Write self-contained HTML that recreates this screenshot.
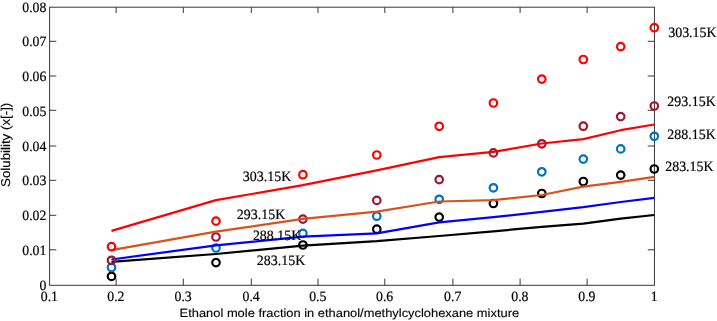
<!DOCTYPE html>
<html><head><meta charset="utf-8"><title>Solubility chart</title>
<style>
html,body{margin:0;padding:0;background:#fff;}
svg{display:block;}
text{text-rendering:geometricPrecision;}
.t{font-family:"Liberation Serif",serif;font-size:14.25px;fill:#000;stroke:#000;stroke-width:0.2px;}
.a{font-family:"Liberation Sans",sans-serif;font-size:11.85px;fill:#000;stroke:#000;stroke-width:0.12px;}
</style></head><body>
<svg width="717" height="321" viewBox="0 0 717 321">
<rect width="717" height="321" fill="#ffffff"/>
<rect x="49.6" y="7.2" width="604.85" height="278.1" fill="none" stroke="#383838" stroke-width="1"/>
<path d="M116.10 285.3V278.60M116.10 7.2V13.00" stroke="#383838" stroke-width="1" fill="none"/>
<path d="M183.30 285.3V278.60M183.30 7.2V13.00" stroke="#383838" stroke-width="1" fill="none"/>
<path d="M251.30 285.3V278.60M251.30 7.2V13.00" stroke="#383838" stroke-width="1" fill="none"/>
<path d="M318.00 285.3V278.60M318.00 7.2V13.00" stroke="#383838" stroke-width="1" fill="none"/>
<path d="M384.80 285.3V278.60M384.80 7.2V13.00" stroke="#383838" stroke-width="1" fill="none"/>
<path d="M452.90 285.3V278.60M452.90 7.2V13.00" stroke="#383838" stroke-width="1" fill="none"/>
<path d="M520.10 285.3V278.60M520.10 7.2V13.00" stroke="#383838" stroke-width="1" fill="none"/>
<path d="M587.10 285.3V278.60M587.10 7.2V13.00" stroke="#383838" stroke-width="1" fill="none"/>
<path d="M49.6 249.80H56.30M654.45 249.80H647.75" stroke="#383838" stroke-width="1" fill="none"/>
<path d="M49.6 215.30H56.30M654.45 215.30H647.75" stroke="#383838" stroke-width="1" fill="none"/>
<path d="M49.6 180.30H56.30M654.45 180.30H647.75" stroke="#383838" stroke-width="1" fill="none"/>
<path d="M49.6 146.00H56.30M654.45 146.00H647.75" stroke="#383838" stroke-width="1" fill="none"/>
<path d="M49.6 110.30H56.30M654.45 110.30H647.75" stroke="#383838" stroke-width="1" fill="none"/>
<path d="M49.6 76.00H56.30M654.45 76.00H647.75" stroke="#383838" stroke-width="1" fill="none"/>
<path d="M49.6 41.30H56.30M654.45 41.30H647.75" stroke="#383838" stroke-width="1" fill="none"/>
<circle cx="111.5" cy="276.4" r="3.75" fill="none" stroke="#000000" stroke-width="2.2"/><circle cx="216.0" cy="262.6" r="3.75" fill="none" stroke="#000000" stroke-width="2.2"/><circle cx="302.9" cy="245.0" r="3.75" fill="none" stroke="#000000" stroke-width="2.2"/><circle cx="376.8" cy="229.2" r="3.75" fill="none" stroke="#000000" stroke-width="2.2"/><circle cx="439.2" cy="217.1" r="3.75" fill="none" stroke="#000000" stroke-width="2.2"/><circle cx="493.4" cy="203.5" r="3.75" fill="none" stroke="#000000" stroke-width="2.2"/><circle cx="541.8" cy="193.5" r="3.75" fill="none" stroke="#000000" stroke-width="2.2"/><circle cx="583.3" cy="181.5" r="3.75" fill="none" stroke="#000000" stroke-width="2.2"/><circle cx="620.7" cy="175.1" r="3.75" fill="none" stroke="#000000" stroke-width="2.2"/><circle cx="654.3" cy="169.0" r="3.75" fill="none" stroke="#000000" stroke-width="2.2"/>
<polyline points="111.5,261.8 216.0,254.0 302.9,245.6 376.8,241.2 439.2,236.0 493.4,231.3 541.8,226.9 583.3,223.6 620.7,218.7 654.3,215.0" fill="none" stroke="#000000" stroke-width="2.2" stroke-linejoin="round"/>
<circle cx="111.5" cy="267.5" r="3.75" fill="none" stroke="#0072bd" stroke-width="2.2"/><circle cx="216.0" cy="248.0" r="3.75" fill="none" stroke="#0072bd" stroke-width="2.2"/><circle cx="302.9" cy="233.4" r="3.75" fill="none" stroke="#0072bd" stroke-width="2.2"/><circle cx="376.8" cy="216.2" r="3.75" fill="none" stroke="#0072bd" stroke-width="2.2"/><circle cx="439.2" cy="199.3" r="3.75" fill="none" stroke="#0072bd" stroke-width="2.2"/><circle cx="493.4" cy="187.8" r="3.75" fill="none" stroke="#0072bd" stroke-width="2.2"/><circle cx="541.8" cy="171.8" r="3.75" fill="none" stroke="#0072bd" stroke-width="2.2"/><circle cx="583.3" cy="159.1" r="3.75" fill="none" stroke="#0072bd" stroke-width="2.2"/><circle cx="620.7" cy="148.9" r="3.75" fill="none" stroke="#0072bd" stroke-width="2.2"/><circle cx="654.3" cy="136.3" r="3.75" fill="none" stroke="#0072bd" stroke-width="2.2"/>
<polyline points="111.5,259.5 216.0,245.3 302.9,236.7 376.8,233.3 439.2,222.4 493.4,217.2 541.8,211.9 583.3,207.2 620.7,202.0 654.3,197.9" fill="none" stroke="#0000ff" stroke-width="2.2" stroke-linejoin="round"/>
<circle cx="111.5" cy="260.3" r="3.75" fill="none" stroke="#a2142f" stroke-width="2.2"/><circle cx="216.0" cy="237.0" r="3.75" fill="none" stroke="#a2142f" stroke-width="2.2"/><circle cx="302.9" cy="219.1" r="3.75" fill="none" stroke="#a2142f" stroke-width="2.2"/><circle cx="376.8" cy="200.4" r="3.75" fill="none" stroke="#a2142f" stroke-width="2.2"/><circle cx="439.2" cy="179.6" r="3.75" fill="none" stroke="#a2142f" stroke-width="2.2"/><circle cx="493.4" cy="152.9" r="3.75" fill="none" stroke="#a2142f" stroke-width="2.2"/><circle cx="541.8" cy="143.8" r="3.75" fill="none" stroke="#a2142f" stroke-width="2.2"/><circle cx="583.3" cy="126.2" r="3.75" fill="none" stroke="#a2142f" stroke-width="2.2"/><circle cx="620.7" cy="116.6" r="3.75" fill="none" stroke="#a2142f" stroke-width="2.2"/><circle cx="654.3" cy="106.0" r="3.75" fill="none" stroke="#a2142f" stroke-width="2.2"/>
<polyline points="111.5,250.2 216.0,231.7 302.9,218.9 376.8,211.7 439.2,201.5 493.4,200.2 541.8,195.0 583.3,186.7 620.7,181.8 654.3,176.8" fill="none" stroke="#d95319" stroke-width="2.2" stroke-linejoin="round"/>
<circle cx="111.5" cy="246.7" r="3.75" fill="none" stroke="#ff0000" stroke-width="2.2"/><circle cx="216.0" cy="221.1" r="3.75" fill="none" stroke="#ff0000" stroke-width="2.2"/><circle cx="302.9" cy="174.7" r="3.75" fill="none" stroke="#ff0000" stroke-width="2.2"/><circle cx="376.8" cy="155.0" r="3.75" fill="none" stroke="#ff0000" stroke-width="2.2"/><circle cx="439.2" cy="126.3" r="3.75" fill="none" stroke="#ff0000" stroke-width="2.2"/><circle cx="493.4" cy="103.0" r="3.75" fill="none" stroke="#ff0000" stroke-width="2.2"/><circle cx="541.8" cy="79.1" r="3.75" fill="none" stroke="#ff0000" stroke-width="2.2"/><circle cx="583.3" cy="59.5" r="3.75" fill="none" stroke="#ff0000" stroke-width="2.2"/><circle cx="620.7" cy="46.6" r="3.75" fill="none" stroke="#ff0000" stroke-width="2.2"/><circle cx="654.3" cy="27.7" r="3.75" fill="none" stroke="#ff0000" stroke-width="2.2"/>
<polyline points="111.5,230.9 216.0,200.1 302.9,185.2 376.8,170.4 439.2,157.1 493.4,151.9 541.8,143.5 583.3,139.1 620.7,130.2 654.3,124.5" fill="none" stroke="#ff0000" stroke-width="2.2" stroke-linejoin="round"/>
<text class="t" transform="translate(49.4 300.7) scale(0.968 1)" text-anchor="middle">0.1</text>
<text class="t" transform="translate(115.9 300.7) scale(0.968 1)" text-anchor="middle">0.2</text>
<text class="t" transform="translate(183.1 300.7) scale(0.968 1)" text-anchor="middle">0.3</text>
<text class="t" transform="translate(251.1 300.7) scale(0.968 1)" text-anchor="middle">0.4</text>
<text class="t" transform="translate(317.8 300.7) scale(0.968 1)" text-anchor="middle">0.5</text>
<text class="t" transform="translate(384.6 300.7) scale(0.968 1)" text-anchor="middle">0.6</text>
<text class="t" transform="translate(452.7 300.7) scale(0.968 1)" text-anchor="middle">0.7</text>
<text class="t" transform="translate(519.9 300.7) scale(0.968 1)" text-anchor="middle">0.8</text>
<text class="t" transform="translate(586.9 300.7) scale(0.968 1)" text-anchor="middle">0.9</text>
<text class="t" transform="translate(654.2 300.7) scale(0.968 1)" text-anchor="middle">1</text>
<text class="t" transform="translate(46.4 289.9) scale(0.968 1)" text-anchor="end">0</text>
<text class="t" transform="translate(46.4 254.8) scale(0.968 1)" text-anchor="end">0.01</text>
<text class="t" transform="translate(46.4 220.1) scale(0.968 1)" text-anchor="end">0.02</text>
<text class="t" transform="translate(46.4 185.3) scale(0.968 1)" text-anchor="end">0.03</text>
<text class="t" transform="translate(46.4 150.7) scale(0.968 1)" text-anchor="end">0.04</text>
<text class="t" transform="translate(46.4 115.5) scale(0.968 1)" text-anchor="end">0.05</text>
<text class="t" transform="translate(46.4 81.0) scale(0.968 1)" text-anchor="end">0.06</text>
<text class="t" transform="translate(46.4 46.2) scale(0.968 1)" text-anchor="end">0.07</text>
<text class="t" transform="translate(46.4 11.8) scale(0.968 1)" text-anchor="end">0.08</text>
<text class="t n" transform="translate(242.8 180.5) scale(0.978 1)">303.15K</text>
<text class="t n" transform="translate(236.8 218.7) scale(0.978 1)">293.15K</text>
<text class="t n" transform="translate(252.9 239.5) scale(0.978 1)">288.15K</text>
<text class="t n" transform="translate(256.8 264.8) scale(0.978 1)">283.15K</text>
<text class="t n" transform="translate(668.2 37.2) scale(0.978 1)">303.15K</text>
<text class="t n" transform="translate(667.3 106.4) scale(0.978 1)">293.15K</text>
<text class="t n" transform="translate(667.3 139.0) scale(0.978 1)">288.15K</text>
<text class="t n" transform="translate(665.2 170.7) scale(0.978 1)">283.15K</text>
<text class="a" transform="translate(179.6 316.5) scale(1.088 1)">Ethanol mole fraction in ethanol/methylcyclohexane mixture</text>
<text class="a" style="font-size:12.8px" transform="translate(10.3 187) rotate(-90) scale(1.04 1)">Solubility (x[-])</text>
</svg>
</body></html>
